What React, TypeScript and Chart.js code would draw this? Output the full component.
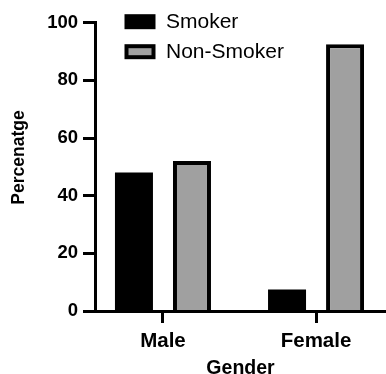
import React, { useEffect, useRef } from "react";
import { Chart, registerables } from "chart.js";

Chart.register(...registerables);

const categories = ["Male", "Female"];
const seriesNames = ["Smoker", "Non-Smoker"];
const smokerValues = [48, 7.5];
const nonSmokerValues = [52, 92.5];
const yTickValues = [0, 20, 40, 60, 80, 100];
const xTitle = "Gender";
const yTitle = "Percenatge";

const FONT = "'Liberation Sans', Arial, Helvetica, sans-serif";
const GREY = "#a0a0a0";

const overlayPlugin = {
  id: "overlay",
  afterDraw(chart: any) {
    const ctx = chart.ctx;
    const area = chart.chartArea;
    ctx.save();
    // y-axis title
    ctx.translate(19.5, 157.5);
    ctx.rotate(-Math.PI / 2);
    ctx.font = `bold 17.5px ${FONT}`;
    ctx.fillStyle = "#000";
    ctx.textAlign = "center";
    ctx.textBaseline = "middle";
    ctx.fillText(yTitle, 0, 0);
    ctx.restore();

    // legend
    ctx.save();
    const fills = ["#000", GREY];
    const boxX = area.left + 29.5;
    const firstCenter = area.top - 1;
    seriesNames.forEach((name, i) => {
      const cy = firstCenter + i * 30;
      const bw = 31;
      const bh = 15;
      const bt = 4;
      ctx.fillStyle = "#000";
      ctx.fillRect(boxX, cy - bh / 2, bw, bh);
      ctx.fillStyle = fills[i];
      ctx.fillRect(boxX + bt, cy - bh / 2 + bt, bw - 2 * bt, bh - 2 * bt);
      ctx.fillStyle = "#000";
      ctx.font = `21px ${FONT}`;
      ctx.textAlign = "left";
      ctx.textBaseline = "middle";
      ctx.fillText(name, boxX + bw + 10.5, cy + 1);
    });
    ctx.restore();
  },
};

export default function App() {
  const canvasRef = useRef<HTMLCanvasElement | null>(null);

  useEffect(() => {
    document.body.style.margin = "0";
    document.body.style.overflow = "hidden";
    const canvas = canvasRef.current;
    if (!canvas) return;

    const chart = new Chart(canvas, {
      type: "bar",
      data: {
        datasets: [
          {
            label: seriesNames[0],
            data: smokerValues.map((v, i) => ({ x: i, y: v })),
            backgroundColor: "#000",
            borderColor: "#000",
            borderWidth: 0,
          },
          {
            label: seriesNames[1],
            data: nonSmokerValues.map((v, i) => ({ x: i, y: v })),
            backgroundColor: GREY,
            borderColor: "#000",
            borderWidth: 4,
          },
        ],
      },
      options: {
        responsive: false,
        animation: false,
        events: [],
        categoryPercentage: 0.758,
        barPercentage: 0.655,
        layout: { padding: { top: 22.7, right: 0, bottom: 0, left: 0 } },
        plugins: {
          legend: { display: false },
          tooltip: { enabled: false },
        },
        scales: {
          x: {
            type: "linear",
            min: -0.444,
            max: 1.457,
            offset: false,
            afterFit: (s: any) => {
              s.height = 63;
            },
            afterBuildTicks: (s: any) => {
              s.ticks = categories.map((_, i) => ({ value: i }));
            },
            grid: {
              offset: false,
              drawOnChartArea: false,
              drawTicks: true,
              tickLength: 12,
              tickWidth: 3,
              tickColor: "#000",
            },
            border: { display: true, width: 3, color: "#000", z: 1 },
            ticks: {
              autoSkip: false,
              maxRotation: 0,
              padding: 6,
              color: "#000",
              font: { family: FONT, size: 20.5, weight: "bold" },
              callback: (v: any) => categories[v] ?? "",
            },
            title: {
              display: true,
              text: xTitle,
              color: "#000",
              font: { family: FONT, size: 19.5, weight: "bold" },
              padding: { top: 0, bottom: -6.5 },
            },
          },
          y: {
            min: 0,
            max: 100,
            afterFit: (s: any) => {
              s.width = 95;
            },
            afterBuildTicks: (s: any) => {
              s.ticks = yTickValues.map((v) => ({ value: v }));
            },
            grid: {
              drawOnChartArea: false,
              drawTicks: true,
              tickLength: 12,
              tickWidth: 3,
              tickColor: "#000",
            },
            border: { display: true, width: 3, color: "#000", z: 1 },
            ticks: {
              padding: 5,
              color: "#000",
              font: { family: FONT, size: 18.5, weight: "bold" },
            },
            title: { display: false },
          },
        },
      },
      plugins: [overlayPlugin],
    });

    return () => chart.destroy();
  }, []);

  return (
    <div style={{ width: 386, height: 374 }}>
      <canvas ref={canvasRef} width={386} height={374} />
    </div>
  );
}
